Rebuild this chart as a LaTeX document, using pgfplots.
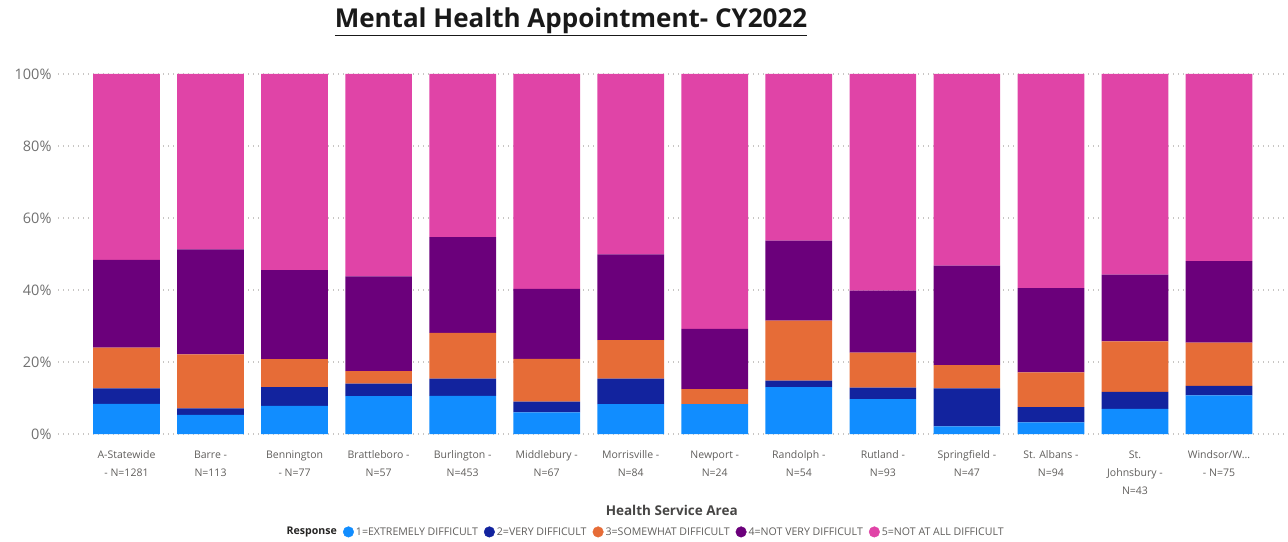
\documentclass[border=0pt]{standalone}
\usepackage{fontspec}
\setmainfont{Open Sans}
\usepackage{pgfplots}
\usepackage{pgfplotstable}
\pgfplotsset{compat=1.18}
\definecolor{cA}{HTML}{118DFF}
\definecolor{cB}{HTML}{12239E}
\definecolor{cC}{HTML}{E66C37}
\definecolor{cD}{HTML}{6B007B}
\definecolor{cE}{HTML}{E044A7}
\definecolor{tickgray}{HTML}{605E5C}
\definecolor{ygray}{HTML}{707070}
\definecolor{gridgray}{HTML}{C8C6C4}
\definecolor{titlegray}{HTML}{252423}

\pgfplotstableread{
x  lb   db   so   nv   na
0  8.4  4.3  11.3 24.4 51.6
1  5.3  1.8  15.0 29.2 48.7
2  7.8  5.2  7.8  24.7 54.5
3  10.5 3.5  3.5  26.3 56.2
4  10.6 4.8  12.7 26.6 45.3
5  6.0  3.0  11.9 19.4 59.7
6  8.3  7.1  10.7 23.8 50.1
7  8.3  0.0  4.2  16.7 70.8
8  13.0 1.8  16.7 22.2 46.3
9  9.7  3.2  9.7  17.2 60.2
10 2.1  10.6 6.4  27.7 53.2
11 3.2  4.3  9.6  23.4 59.5
12 7.0  4.7  14.0 18.6 55.7
13 10.7 2.7  12.0 22.6 52.0
}\data

\begin{document}
\begin{tikzpicture}[x=1pt,y=1pt]
\useasboundingbox (0,0) rectangle (1288,541);
\node[font=\fontsize{26}{30}\selectfont\bfseries, text=black!90] at (571,519) {\underline{Mental Health Appointment- CY2022}};
\begin{axis}[
  at={(58pt,107pt)}, anchor=south west,
  scale only axis, width=1227.4pt, height=360pt,
  ybar stacked, bar width=66.7pt,
  xmin=-0.815, xmax=13.79, ymin=0, ymax=100,
  xtick={0,1,2,3,4,5,6,7,8,9,10,11,12,13},
  xticklabels={{A-Statewide\\- N=1281},{Barre -\\N=113},{Bennington\\- N=77},{Brattleboro -\\N=57},{Burlington -\\N=453},{Middlebury -\\N=67},{Morrisville -\\N=84},{Newport -\\N=24},{Randolph -\\N=54},{Rutland -\\N=93},{Springfield -\\N=47},{St. Albans -\\N=94},{St.\\Johnsbury -\\N=43},{Windsor/W.{}.{}.\\- N=75}},
  xticklabel style={align=center, font=\fontsize{10.5}{18}\selectfont, text=tickgray, yshift=-13pt},
  ytick={0,20,40,60,80,100},
  yticklabel={\pgfmathprintnumber{\tick}\%},
  /pgf/number format/assume math mode=true,
  yticklabel style={font=\fontsize{14.5}{16}\selectfont, text=ygray, xshift=-3pt},
  axis line style={draw=none},
  major tick length=0pt,
  ymajorgrids,
  major grid style={gridgray, line width=1.2pt, dash pattern=on 1.2pt off 3.8pt},
  xlabel={Health Service Area},
  every axis x label/.style={at={(axis description cs:0.5,-0.211)}, anchor=center, font=\fontsize{13.5}{15}\selectfont\bfseries, text=titlegray!85},
  legend columns=-1,
  legend style={at={(axis description cs:0.478,-0.272)}, anchor=center, draw=none, fill=none,
    font=\fontsize{10.6}{12}\selectfont, text=tickgray,
    nodes={inner xsep=1pt},
    /tikz/every odd column/.append style={column sep=1pt},
    /tikz/every even column/.append style={column sep=5pt}},
]
\addplot[fill=cA, draw=none, forget plot] table[x=x,y=lb]{\data};
\addplot[fill=cB, draw=none, forget plot] table[x=x,y=db]{\data};
\addplot[fill=cC, draw=none, forget plot] table[x=x,y=so]{\data};
\addplot[fill=cD, draw=none, forget plot] table[x=x,y=nv]{\data};
\addplot[fill=cE, draw=none, forget plot] table[x=x,y=na]{\data};
\addlegendimage{empty legend}
\addlegendentry{\textbf{\textcolor{titlegray}{Response}}}
\addlegendimage{legend image code/.code={\fill[cA] (5.3pt,0pt) circle (5.3pt);}}
\addlegendentry{1=EXTREMELY DIFFICULT}
\addlegendimage{legend image code/.code={\fill[cB] (5.3pt,0pt) circle (5.3pt);}}
\addlegendentry{2=VERY DIFFICULT}
\addlegendimage{legend image code/.code={\fill[cC] (5.3pt,0pt) circle (5.3pt);}}
\addlegendentry{3=SOMEWHAT DIFFICULT}
\addlegendimage{legend image code/.code={\fill[cD] (5.3pt,0pt) circle (5.3pt);}}
\addlegendentry{4=NOT VERY DIFFICULT}
\addlegendimage{legend image code/.code={\fill[cE] (5.3pt,0pt) circle (5.3pt);}}
\addlegendentry{5=NOT AT ALL DIFFICULT}
\end{axis}
\end{tikzpicture}
\end{document}
